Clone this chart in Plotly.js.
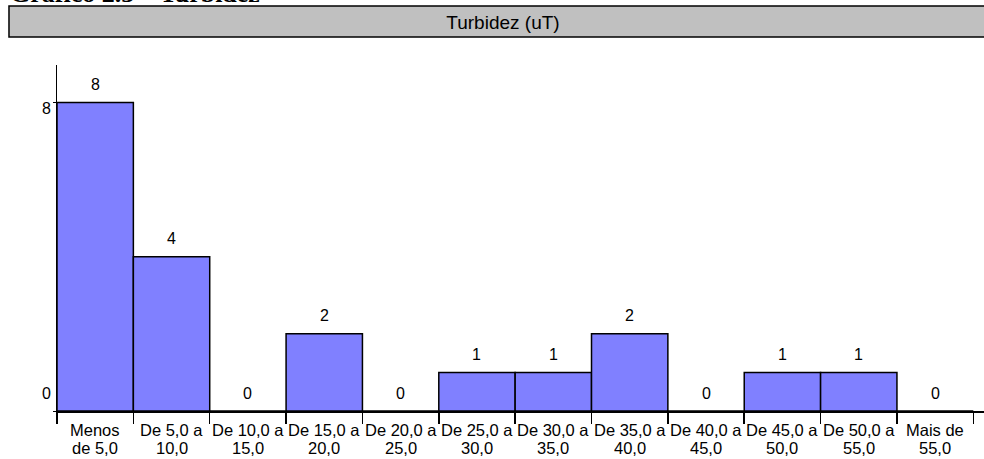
<!DOCTYPE html>
<html>
<head>
<meta charset="utf-8">
<script src="https://cdn.plot.ly/plotly-3.0.1.min.js"></script>
<style>
  html, body { margin: 0; padding: 0; background: #fff; }
  #chart { width: 984px; height: 459px; }
</style>
</head>
<body>
<div id="chart"></div>
<script>
// Frequency classes of turbidity (uT): each class label is split over two lines
const classes = [
  "Menos de 5,0",
  "De 5,0 a 10,0",
  "De 10,0 a 15,0",
  "De 15,0 a 20,0",
  "De 20,0 a 25,0",
  "De 25,0 a 30,0",
  "De 30,0 a 35,0",
  "De 35,0 a 40,0",
  "De 40,0 a 45,0",
  "De 45,0 a 50,0",
  "De 50,0 a 55,0",
  "Mais de 55,0"
];
const labelLine1 = ["Menos", "De 5,0 a", "De 10,0 a", "De 15,0 a", "De 20,0 a", "De 25,0 a",
                    "De 30,0 a", "De 35,0 a", "De 40,0 a", "De 45,0 a", "De 50,0 a", "Mais de"];
const labelLine2 = ["de 5,0", "10,0", "15,0", "20,0", "25,0", "30,0",
                    "35,0", "40,0", "45,0", "50,0", "55,0", "55,0"];
const counts = [8, 4, 0, 2, 0, 1, 1, 2, 0, 1, 1, 0];
const yTickVals = [0, 8];

const chartTitle = "Turbidez (uT)";
const figureCaption = "Gráfico 2.3 – Turbidez";

const baseFont = "Liberation Sans, Arial, sans-serif";
const txt = (size) => ({ family: baseFont, size: size, color: "#000" });

const barTrace = {
  type: "bar",
  x: classes,
  y: counts,
  marker: { color: "#8080FF", line: { color: "#000000", width: 1.5 } },
  hoverinfo: "x+y"
};

// counts written above each class
const valueLabels = classes.map((c, i) => ({
  x: c, y: counts[i], xref: "x", yref: "y",
  text: String(counts[i]), showarrow: false,
  yanchor: "middle", yshift: 18, font: txt(16)
}));

// two-line class labels under the axis
const classLabels = [];
classes.forEach((c, i) => {
  classLabels.push({
    x: c, y: 0, xref: "x", yref: "y", text: labelLine1[i], showarrow: false,
    yanchor: "middle", yshift: -18.5, font: txt(16.5)
  });
  classLabels.push({
    x: c, y: 0, xref: "x", yref: "y", text: labelLine2[i], showarrow: false,
    yanchor: "middle", yshift: -36.5, font: txt(16.5)
  });
});

// y-axis labels
const yLabelShift = { 0: 18, 8: -6 };
const yLabels = yTickVals.map(v => ({
  x: 0, y: v, xref: "paper", yref: "y",
  text: String(v), showarrow: false,
  xanchor: "right", xshift: -4, yanchor: "middle", yshift: yLabelShift[v],
  font: txt(16)
}));

const caption = {
  x: 0, y: 0, xref: "paper", yref: "paper",
  text: "<b>" + figureCaption + "</b>", showarrow: false,
  xanchor: "left", yanchor: "bottom",
  xshift: -49, yshift: 401,
  font: { family: "Liberation Serif, Times New Roman, serif", size: 26, color: "#000" }
};

const layout = {
  width: 984, height: 459,
  margin: { l: 57, r: 0, t: 65, b: 47.5, pad: 0 },
  paper_bgcolor: "#ffffff",
  plot_bgcolor: "#ffffff",
  showlegend: false,
  bargap: 0,
  font: txt(16),
  title: {
    text: chartTitle,
    x: 503 / 984, xref: "container", xanchor: "center",
    y: 1 - 22 / 459, yref: "container", yanchor: "middle",
    font: txt(19)
  },
  xaxis: {
    type: "category",
    range: [-0.5, 11.64],
    showline: true, linecolor: "#000", linewidth: 1.5,
    ticks: "outside", tickson: "boundaries", ticklen: 11, tickwidth: 1.5, tickcolor: "#000",
    showticklabels: false,
    showgrid: false, zeroline: false,
    fixedrange: true
  },
  yaxis: {
    range: [0, 8.97],
    showline: true, linecolor: "#000", linewidth: 1.5,
    ticks: "outside", ticklen: 3, tickwidth: 1, tickcolor: "#000",
    tickvals: yTickVals, showticklabels: false,
    showgrid: false, zeroline: false,
    fixedrange: true
  },
  shapes: [{
    type: "rect", xref: "paper", yref: "paper",
    x0: -0.0518, x1: 1.02, y0: 1.0808, y1: 1.1703,
    fillcolor: "#C0C0C0", line: { color: "#000", width: 1.5 },
    layer: "below"
  }],
  annotations: valueLabels.concat(classLabels, yLabels, [caption])
};

Plotly.newPlot("chart", [barTrace], layout, { displayModeBar: false, staticPlot: true });
</script>
</body>
</html>
